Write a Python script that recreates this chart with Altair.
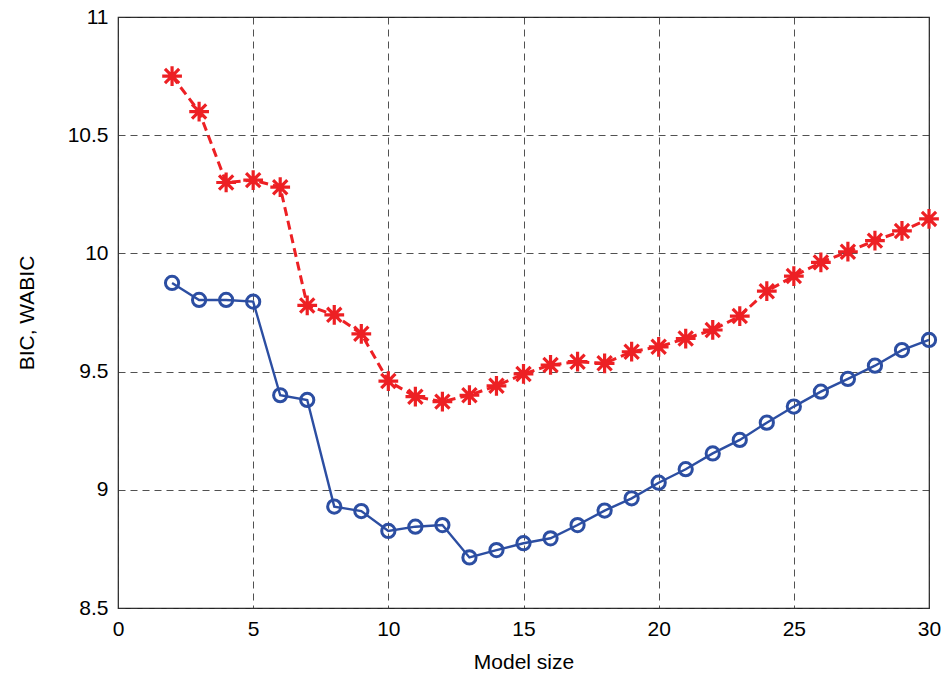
import altair as alt
import pandas as pd

model_size = list(range(2, 31))
wabic_red = [10.75, 10.60, 10.30, 10.31, 10.28, 9.78, 9.74, 9.66, 9.46, 9.394, 9.373, 9.40, 9.44,
             9.49, 9.528, 9.542, 9.535, 9.584, 9.605, 9.64, 9.676, 9.735, 9.84, 9.904, 9.962,
             10.007, 10.054, 10.095, 10.146]
bic_blue = [9.875, 9.803, 9.803, 9.796, 9.40, 9.38, 8.929, 8.91, 8.826, 8.844, 8.851, 8.714, 8.745,
            8.774, 8.795, 8.851, 8.912, 8.964, 9.030, 9.087, 9.154, 9.211, 9.284, 9.352, 9.415,
            9.469, 9.525, 9.591, 9.634]

red = pd.DataFrame({"x": model_size, "y": wabic_red})
blue = pd.DataFrame({"x": model_size, "y": bic_blue})

RED = "#ED2024"
BLUE = "#2C4EA2"
FONT = "Liberation Sans"

xs = alt.Scale(domain=[0, 30], nice=False, zero=False)
ys = alt.Scale(domain=[8.5, 11], nice=False, zero=False)

common = dict(grid=True, gridDash=[7, 5], gridColor="#333", gridOpacity=0.85, gridWidth=1,
              ticks=False, domain=False, labelFlush=False, labelOverlap=False,
              labelFont=FONT, labelFontSize=21, labelColor="#000",
              titleFont=FONT, titleFontSize=21, titleFontWeight="normal", titleColor="#000")

xenc = alt.X("x:Q", scale=xs, title="Model size",
             axis=alt.Axis(values=[0, 5, 10, 15, 20, 25, 30], labelPadding=10, titlePadding=12,
                           **common))
yenc = alt.Y("y:Q", scale=ys, title="BIC, WABIC",
             axis=alt.Axis(values=[8.5, 9, 9.5, 10, 10.5, 11], format=".3~g", labelPadding=10,
                           titlePadding=30, **common))

star = "M-1,0L1,0M0,-1L0,1M-0.72,-0.72L0.72,0.72M-0.72,0.72L0.72,-0.72"

blue_line = alt.Chart(blue).mark_line(color=BLUE, strokeWidth=2.4).encode(x=xenc, y=yenc)
blue_pts = alt.Chart(blue).mark_point(shape="circle", size=175, color=BLUE, filled=False,
                                      strokeWidth=3, opacity=1).encode(x="x:Q", y="y:Q")
red_line = alt.Chart(red).mark_line(color=RED, strokeWidth=3, strokeDash=[9, 5]).encode(x="x:Q", y="y:Q")
red_pts = alt.Chart(red).mark_point(shape=star, size=390, color=RED, filled=False,
                                    strokeWidth=3.2, opacity=1).encode(x="x:Q", y="y:Q")

chart = alt.layer(blue_line, blue_pts, red_line, red_pts).properties(
    width=811, height=591,
    background="white",
    autosize=alt.AutoSizeParams(type="none"),
    padding={"left": 118, "top": 17, "right": 20, "bottom": 73},
).configure_view(stroke="#222", strokeWidth=1.2)

chart.save("out.html", embed_options={"renderer": "svg", "actions": False})
